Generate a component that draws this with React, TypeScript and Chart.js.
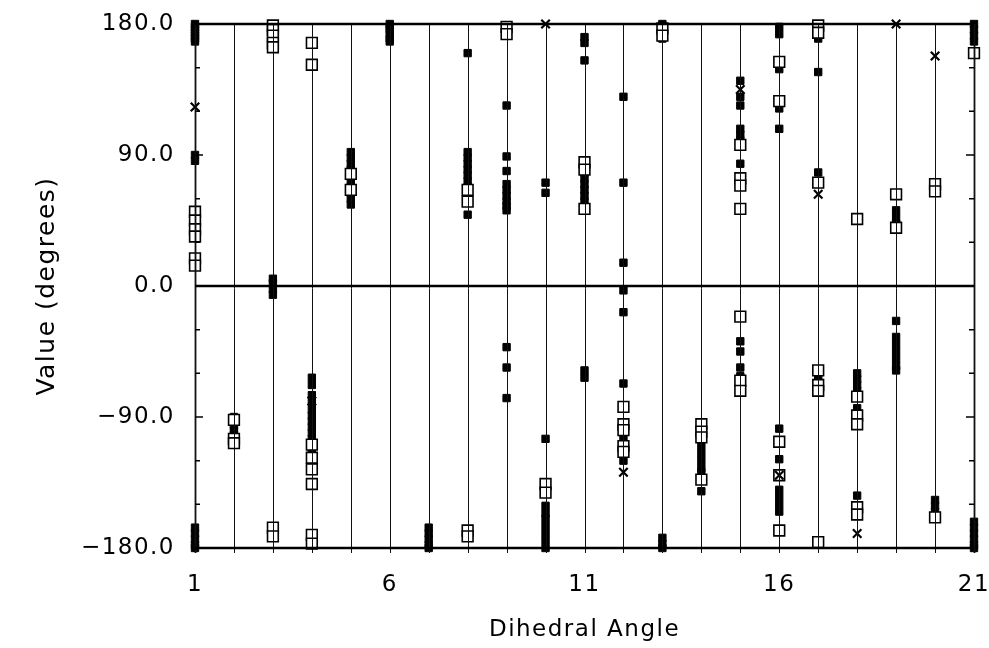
import React, { useEffect, useRef } from "react";
import { Chart, registerables } from "chart.js";

Chart.register(...registerables);

// Dihedral angle index 1..21, one list of values (degrees) per angle
const filledSquares: number[][] = [
  [180, 178, 176, 174, 172, 170, 168, 90, 86, -166, -170, -174, -178, -180],
  [-90, -93, -96, -99, -102],
  [5, 2, -2, -6],
  [-63, -68, -75, -80, -85, -89, -93, -97, -101, -105, -110, -114],
  [92, 88, 84, 80, 76, 72, 68, 64, 60, 56],
  [180, 178, 176, 173, 170, 168],
  [-166, -170, -174, -178, -180],
  [160, 92, 88, 84, 80, 76, 72, 68, 64, 49],
  [124, 89, 79, 70, 66, 62, 58, 55, 52, -42, -56, -77],
  [71, 64, -105, -151, -156, -160, -165, -170, -175, -180],
  [171, 167, 155, 78, 74, 70, 66, 62, 58, -58, -63],
  [130, 71, 16, -3, -18, -67, -95, -100, -105, -110, -115, -120],
  [180, 178, 176, 173, 170, -173, -177, -180],
  [-105, -110, -115, -120, -125, -128, -141],
  [141, 130, 124, 108, 104, 100, 84, -38, -45, -56, -62],
  [178, 173, 149, 122, 108, -98, -119, -140, -145, -150, -155],
  [176, 170, 147, 78, -62, -66, -70],
  [-60, -64, -68, -72, -84, -144, -158],
  [52, 47, 43, -24, -35, -40, -45, -50, -55, -58],
  [-147, -151, -155, -159],
  [180, 176, 172, 168, -162, -166, -170, -174, -178, -180],
];

const openSquares: number[][] = [
  [51, 45, 39, 34, 19, 14],
  [-92, -105, -108],
  [179, 176, 172, 167, 164, -166, -172],
  [167, 152, -109, -118, -126, -136, -171, -177],
  [77, 66],
  [],
  [],
  [66, 58, -168, -172],
  [178, 173],
  [-136, -142],
  [85, 80, 53],
  [-83, -95, -99, -110, -114],
  [177, 172],
  [-95, -100, -104, -133],
  [97, 74, 69, 53, -21, -65, -72],
  [154, 127, -107, -130, -168],
  [179, 174, 71, -58, -68, -72, -176],
  [46, -76, -89, -95, -152, -157],
  [63, 40],
  [70, 65, -159],
  [160],
];

const crossMarks: number[][] = [
  [123], [], [], [-79], [], [], [], [], [], [180],
  [], [-128], [], [], [135], [-130], [63], [-170], [180], [158], [],
];

const xTickLabels = [1, 6, 11, 16, 21];
const yTickValues = [-180, -90, 0, 90, 180];

const toPoints = (cols: number[][]) =>
  cols.flatMap((vals, i) => vals.map((v) => ({ x: i + 1, y: v })));

const FONT = "'DejaVu Sans', sans-serif";

const framePlugin = {
  id: "frame",
  beforeDraw(chart: any) {
    (chart.ctx as any).letterSpacing = "1.5px";
  },
  afterDatasetsDraw(chart: any) {
    const { ctx, chartArea } = chart;
    const xs = chart.scales.x;
    const ys = chart.scales.y;
    const { left, right, top, bottom } = chartArea;
    ctx.save();
    ctx.strokeStyle = "#111";
    // vertical grid lines at each dihedral angle
    for (let i = 1; i <= 21; i++) {
      const px = Math.round(xs.getPixelForValue(i)) + 0.5;
      ctx.lineWidth = i === 1 || i === 21 ? 1.8 : 1;
      ctx.beginPath();
      ctx.moveTo(px, top);
      ctx.lineTo(px, bottom + 5);
      ctx.stroke();
    }
    // thick horizontal lines
    ctx.strokeStyle = "#000";
    ctx.lineWidth = 2.5;
    for (const v of [180, 0, -180]) {
      const py = ys.getPixelForValue(v);
      ctx.beginPath();
      ctx.moveTo(left, py);
      ctx.lineTo(right, py);
      ctx.stroke();
    }
    // minor ticks on left and right
    ctx.lineWidth = 1.5;
    for (let v = -150; v <= 150; v += 30) {
      const py = ys.getPixelForValue(v);
      const len = v % 90 === 0 ? 8 : 5;
      ctx.beginPath();
      ctx.moveTo(left, py);
      ctx.lineTo(left + len, py);
      ctx.moveTo(right, py);
      ctx.lineTo(right - len, py);
      ctx.stroke();
    }
    ctx.restore();
  },
};

export default function App() {
  const ref = useRef<HTMLCanvasElement | null>(null);
  useEffect(() => {
    if (!ref.current) return;
    const chart = new Chart(ref.current, {
      type: "scatter",
      data: {
        datasets: [
          {
            label: "cross",
            data: toPoints(crossMarks),
            pointStyle: "crossRot",
            pointRadius: 6,
            borderColor: "#000",
            backgroundColor: "#000",
            pointBorderWidth: 2.2,
            order: 0,
          },
          {
            label: "open",
            data: toPoints(openSquares),
            pointStyle: "rect",
            pointRadius: 7.6,
            borderColor: "#000",
            backgroundColor: "#fff",
            pointBorderWidth: 1.6,
            order: 1,
          },
          {
            label: "filled",
            data: toPoints(filledSquares),
            pointStyle: "rect",
            pointRadius: 5.2,
            borderColor: "#000",
            backgroundColor: "#000",
            pointBorderWidth: 1,
            order: 2,
          },
        ] as any,
      },
      options: {
        animation: false,
        responsive: false,
        devicePixelRatio: 1,
        events: [],
        clip: false as any,
        layout: { padding: { top: 24, right: 15, left: 0, bottom: 0 } },
        plugins: { legend: { display: false }, tooltip: { enabled: false } },
        scales: {
          x: {
            type: "linear",
            min: 1,
            max: 21,
            grid: { display: false },
            border: { display: false },
            afterFit: (s: any) => {
              s.height = 100;
              s.paddingLeft = 0;
              s.paddingRight = 0;
            },
            afterBuildTicks: (s: any) => {
              s.ticks = xTickLabels.map((v) => ({ value: v }));
            },
            ticks: {
              padding: 15,
              color: "#000",
              font: { family: FONT, size: 23, lineHeight: 1.2 },
              callback: (v: any) => String(v),
              maxRotation: 0,
              autoSkip: false,
            },
            title: {
              display: true,
              text: "Dihedral Angle",
              color: "#000",
              font: { family: FONT, size: 23, lineHeight: 1.2 },
              padding: { top: 0, bottom: 4 },
            },
          },
          y: {
            type: "linear",
            min: -180,
            max: 180,
            grid: { display: false },
            border: { display: false },
            afterFit: (s: any) => {
              s.width = 195;
              s.paddingTop = 0;
              s.paddingBottom = 0;
            },
            afterBuildTicks: (s: any) => {
              s.ticks = yTickValues.map((v) => ({ value: v }));
            },
            ticks: {
              padding: 12,
              color: "#000",
              font: { family: FONT, size: 23, lineHeight: 1.2 },
              callback: (v: any) =>
                (Number(v) < 0 ? "\u2212" : "") + Math.abs(Number(v)).toFixed(1),
            },
            title: {
              display: true,
              text: "Value (degrees)",
              color: "#000",
              font: { family: FONT, size: 25, lineHeight: 1.2 },
              padding: { top: 32, bottom: 0 },
            },
          },
        },
      },
      plugins: [framePlugin],
    });
    return () => chart.destroy();
  }, []);
  return (
    <div style={{ position: "fixed", left: 0, top: 0, width: 989, height: 648, background: "#fff" }}>
      <canvas ref={ref} width={989} height={648} />
    </div>
  );
}
